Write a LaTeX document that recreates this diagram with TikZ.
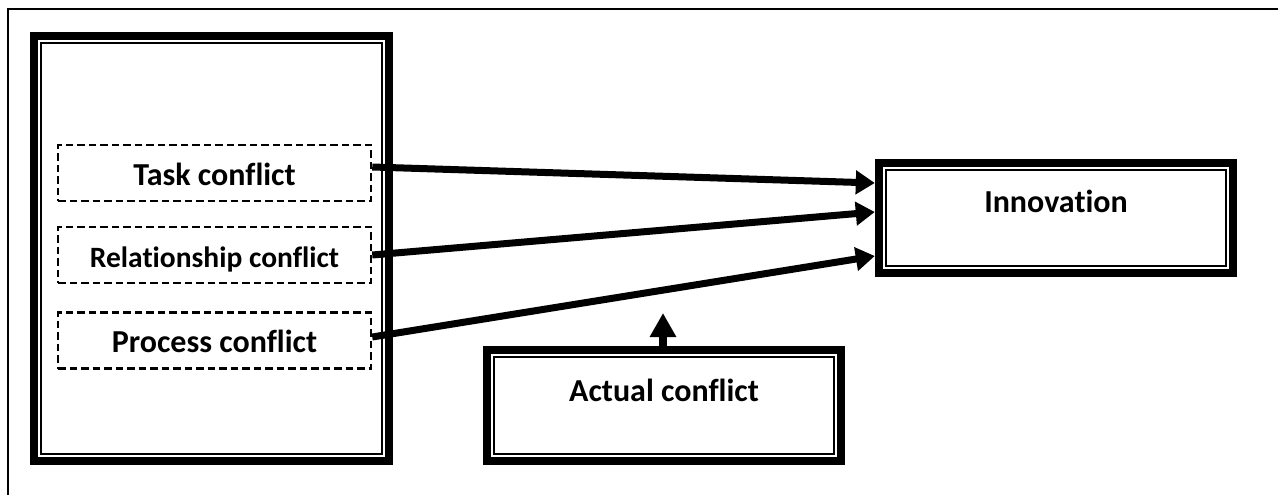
\documentclass[tikz,border=0pt]{standalone}
\usepackage{fontspec}
\setmainfont{Carlito}[Ligatures={NoCommon}]
\usetikzlibrary{arrows.meta}
\begin{document}
\begin{tikzpicture}[x=1pt,y=-1pt,
  panel/.style={rectangle, draw=none, inner sep=0pt},
  factor/.style={rectangle, draw, line width=2.5pt, dash pattern=on 7.5pt off 4pt,
    minimum width=313pt, minimum height=56pt, inner sep=0pt,
    text height=24pt, text depth=0pt,
    font=\bfseries\fontsize{32}{38}\selectfont},
  caption/.style={inner sep=0pt, anchor=base, font=\bfseries\fontsize{32}{38}\selectfont},
  link/.style={line width=7pt, -{Triangle[length=19pt, width=23pt]}},
  uplink/.style={line width=7.5pt, -{Triangle[length=24pt, width=25pt]}}
]
\useasboundingbox (0,0) rectangle (1278,495);
\fill[white] (0,0) rectangle (1278,495);

% page frame (only top and left edges fall inside the page)
\draw[line width=2.7pt] (8,495) -- (8,9) -- (1278,9);

% panels
\node[panel, minimum width=363pt, minimum height=433pt] (group) at (211.5,248.5) {};
\node[panel, minimum width=362pt, minimum height=118pt] (innov) at (1056,218) {};
\node[panel, minimum width=362pt, minimum height=119pt] (actual) at (664,405.5) {};

% thick-thin borders of the panels
\foreach \n in {group,innov,actual} {
  \draw[line width=8pt] ([shift={(4pt,-4pt)}]\n.north west) rectangle ([shift={(-4pt,4pt)}]\n.south east);
  \draw[line width=2pt] ([shift={(11.5pt,-11.5pt)}]\n.north west) rectangle ([shift={(-11.5pt,11.5pt)}]\n.south east);
}

% panel captions
\node[caption] (innovlabel) at ([yshift=6pt]innov.center) {Innovation};
\node[caption] (actuallabel) at ([yshift=4.5pt]actual.center) {Actual conflict};

% conflict types
\node[factor] (task) at (214.5,173) {Task conflict};
\node[factor, font=\bfseries\fontsize{29.5}{35}\selectfont] (rel) at (214.5,255) {Relationship conflict};
\node[factor] (proc) at (214.5,340.5) {Process conflict};

% effects on innovation
\draw[link] ([yshift=6pt]task.east) -- ([yshift=35pt]innov.west);
\draw[link] (rel.east) -- ([yshift=6pt]innov.west);
\draw[link] ([yshift=3.5pt]proc.east) -- ([yshift=-38pt]innov.west);

% actual conflict pointing upward
\coordinate (uptip) at (663,313);
\draw[uplink] ([xshift=-1pt]actual.north) -- (uptip);
\end{tikzpicture}
\end{document}
